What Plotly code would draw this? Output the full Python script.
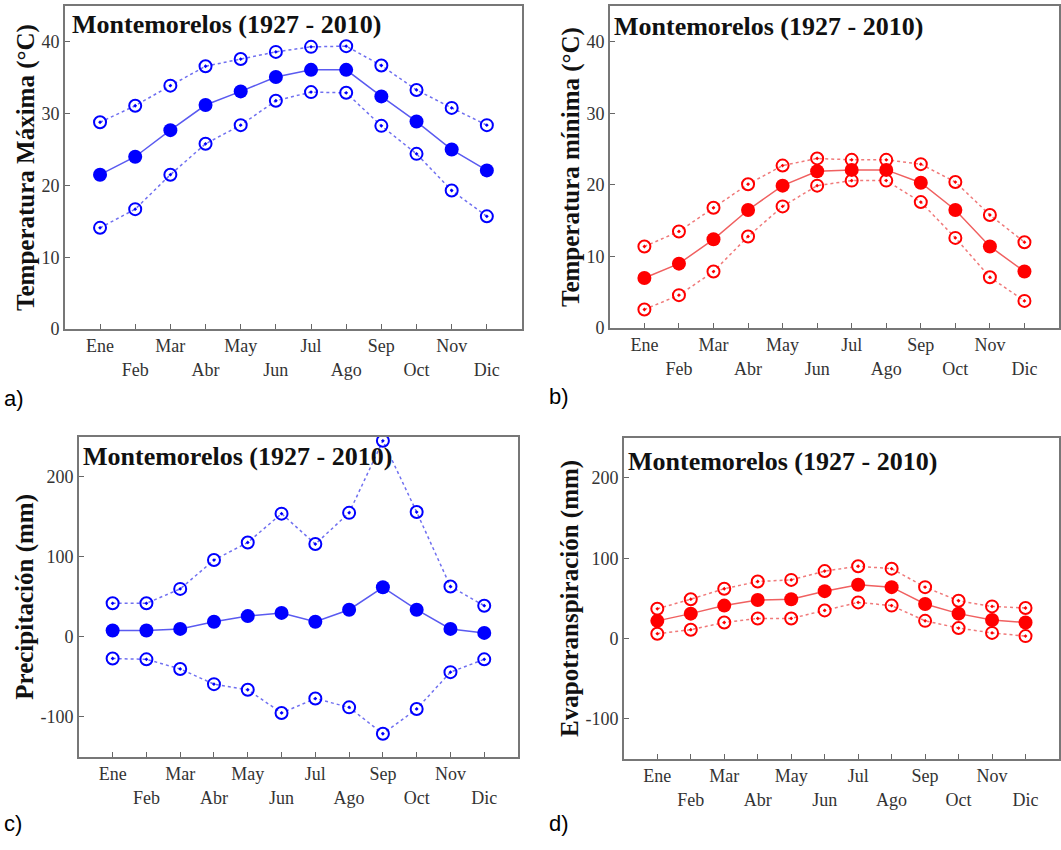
import plotly.graph_objects as go

months = ["Ene", "Feb", "Mar", "Abr", "May", "Jun", "Jul", "Ago", "Sep", "Oct", "Nov", "Dic"]
month_idx = list(range(1, 13))

tmax_mean = [21.5, 24.0, 27.7, 31.2, 33.1, 35.1, 36.1, 36.1, 32.4, 28.9, 25.0, 22.1]
tmax_upper = [28.8, 31.1, 33.9, 36.6, 37.6, 38.6, 39.3, 39.4, 36.7, 33.3, 30.8, 28.4]
tmax_lower = [14.1, 16.7, 21.5, 25.8, 28.4, 31.8, 33.0, 32.9, 28.3, 24.4, 19.3, 15.7]

tmin_mean = [7.0, 9.0, 12.4, 16.5, 19.9, 21.9, 22.1, 22.1, 20.3, 16.5, 11.4, 7.9]
tmin_upper = [11.4, 13.5, 16.8, 20.1, 22.7, 23.7, 23.5, 23.5, 22.9, 20.4, 15.8, 12.0]
tmin_lower = [2.6, 4.6, 7.9, 12.8, 17.0, 19.9, 20.6, 20.6, 17.6, 12.6, 7.1, 3.8]

pp_mean = [8, 8, 10, 19, 26, 30, 19, 34, 62, 34, 10, 5]
pp_upper = [42, 42, 60, 96, 118, 154, 116, 155, 245, 156, 63, 39]
pp_lower = [-27, -28, -40, -59, -66, -95, -77, -88, -121, -90, -44, -28]

et_mean = [22, 31, 41, 48, 49, 59, 67, 64, 43, 31, 23, 20]
et_upper = [37, 49, 62, 71, 73, 84, 90, 87, 64, 47, 40, 38]
et_lower = [6, 11, 20, 25, 25, 35, 45, 41, 22, 13, 7, 3]

title_text = "Montemorelos (1927 - 2010)"
ylabels = ["Temperatura Máxima (°C)", "Temperatura mínima (°C)", "Precipitación (mm)", "Evapotranspiración (mm)"]
panel_tags = ["a)", "b)", "c)", "d)"]
temp_ticks = [0, 10, 20, 30, 40]
mm_ticks = [-100, 0, 100, 200]

W, H = 1061, 850
BLUE = "#0000ff"
RED = "#ff0000"
SERIF = "Liberation Serif"

# panel frames in pixels: (left, right, top, bottom)
frames = [(65, 523, 6, 333), (611, 1061, 6, 332), (79, 519, 442, 766), (625, 1061, 443, 768)]
yranges = [[0, 45], [0, 45], [-150, 250], [-150, 250]]
ytickvals = [temp_ticks, temp_ticks, mm_ticks, mm_ticks]
data_sets = [
    (tmax_mean, tmax_upper, tmax_lower, BLUE, "#5a5af0", "#7070f0"),
    (tmin_mean, tmin_upper, tmin_lower, RED, "#f06060", "#f07a7a"),
    (pp_mean, pp_upper, pp_lower, BLUE, "#5a5af0", "#7070f0"),
    (et_mean, et_upper, et_lower, RED, "#f06060", "#f07a7a"),
]
tag_pos = [(2, 403), (548, 401), (2, 833), (548, 833)]
title_pos = [(70, 25), (613, 27), (81, 462), (627, 467)]

ticktext = [m if i % 2 == 0 else " <br>" + m for i, m in enumerate(months)]

fig = go.Figure()
layout = dict(
    width=W, height=H, margin=dict(l=0, r=0, t=0, b=0),
    paper_bgcolor="white", plot_bgcolor="white", showlegend=False,
    font=dict(family=SERIF, color="#333333"),
)
annotations = []
for k in range(4):
    ax = "" if k == 0 else str(k + 1)
    l, r, t, b = frames[k]
    mean, up, lo, mc, lc, dc = data_sets[k]
    for series in (up, lo):
        fig.add_trace(go.Scatter(
            x=month_idx, y=series, mode="lines+markers",
            line=dict(color=dc, width=1.5, dash="dot"),
            marker=dict(symbol="circle-open-dot", size=12, color=mc, line=dict(width=2, color=mc)),
            xaxis="x" + ax, yaxis="y" + ax))
    fig.add_trace(go.Scatter(
        x=month_idx, y=mean, mode="lines+markers",
        line=dict(color=lc, width=1.5),
        marker=dict(symbol="circle", size=14, color=mc),
        xaxis="x" + ax, yaxis="y" + ax))
    layout["xaxis" + ax] = dict(
        domain=[l / W, r / W], range=[0, 13], anchor="y" + ax,
        tickvals=month_idx, ticktext=ticktext, ticks="inside", ticklen=5,
        tickcolor="#666666", showline=True, linecolor="#777777", linewidth=1.5,
        mirror=True, showgrid=False, zeroline=False,
        tickfont=dict(family=SERIF, size=18, color="#333333"))
    layout["yaxis" + ax] = dict(
        domain=[1 - b / H, 1 - t / H], range=yranges[k], anchor="x" + ax,
        tickvals=ytickvals[k], ticktext=[str(v) for v in ytickvals[k]],
        ticks="inside", ticklen=5, tickcolor="#666666",
        showline=True, linecolor="#777777", linewidth=1.5, mirror=True,
        showgrid=False, zeroline=False,
        tickfont=dict(family=SERIF, size=18, color="#333333"),
        title=dict(text="<b>" + ylabels[k] + "</b>", standoff=0,
                   font=dict(family=SERIF, size=25, color="#111111")))
    tx, ty = title_pos[k]
    annotations.append(dict(
        text="<b>" + title_text + "</b>", xref="paper", yref="paper",
        x=tx / W, y=1 - ty / H, xanchor="left", yanchor="middle", showarrow=False,
        font=dict(family=SERIF, size=26, color="#111111")))
    px, py = tag_pos[k]
    annotations.append(dict(
        text=panel_tags[k], xref="paper", yref="paper",
        x=px / W, y=1 - py / H, xanchor="left", yanchor="middle", showarrow=False,
        font=dict(family="Liberation Sans", size=22, color="#000000")))

layout["annotations"] = annotations
fig.update_layout(**layout)
fig.write_html("out.html")
